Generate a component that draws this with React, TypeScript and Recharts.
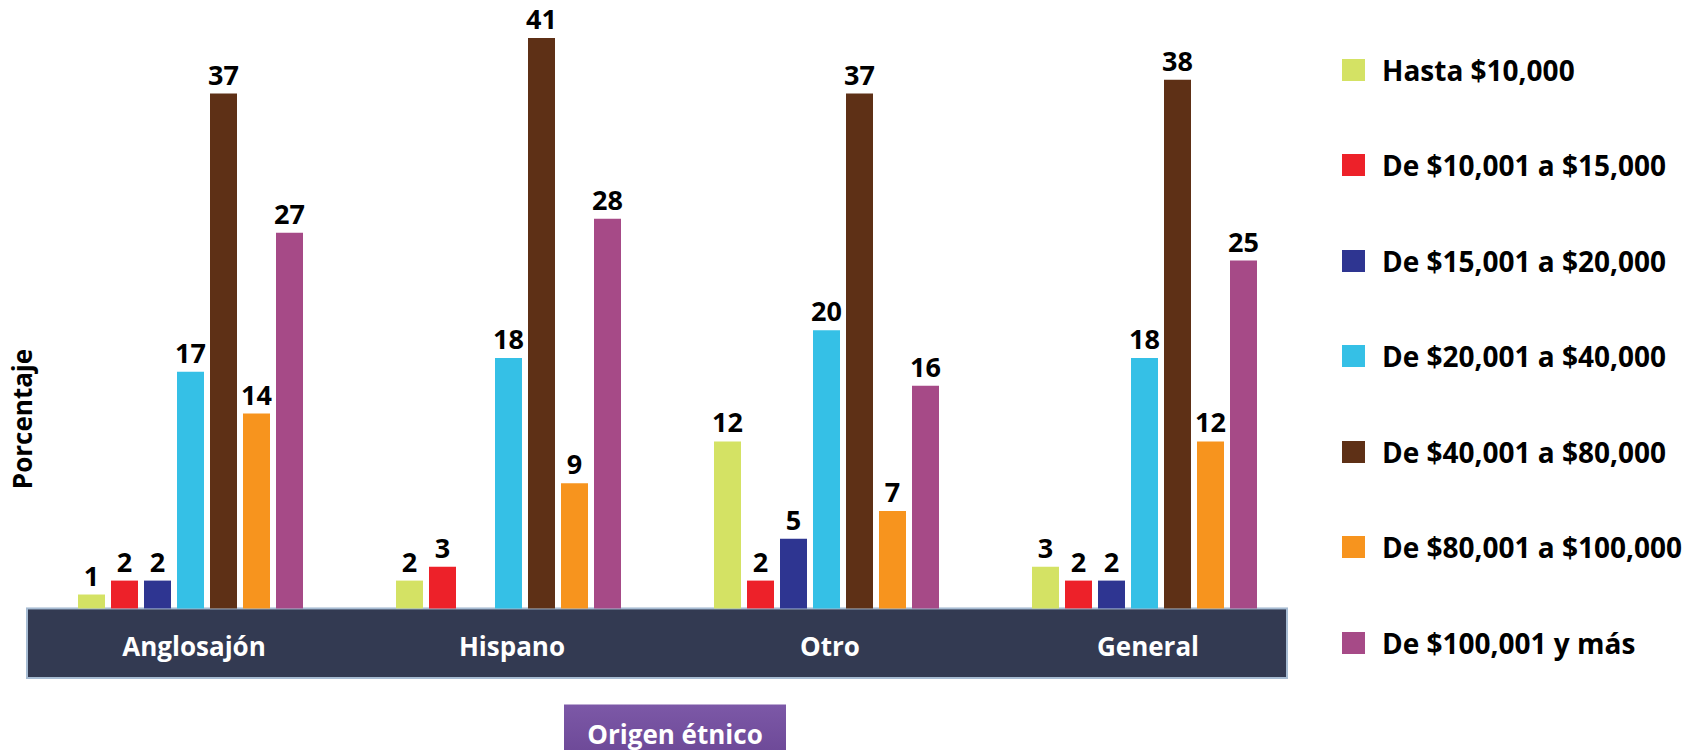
import React from "react";
import { BarChart, Bar, XAxis, YAxis, LabelList, Legend, ReferenceArea } from "recharts";

const categories = ["Anglosajón", "Hispano", "Otro", "General"];

const hasta10k = [1, 2, 12, 3];
const de10a15k = [2, 3, 2, 2];
const de15a20k = [2, null, 5, 2];
const de20a40k = [17, 18, 20, 18];
const de40a80k = [37, 41, 37, 38];
const de80a100k = [14, 9, 7, 12];
const de100kMas = [27, 28, 16, 25];

const series = [
  { key: "s1", name: "Hasta $10,000", values: hasta10k, color: "#d4e264" },
  { key: "s2", name: "De $10,001 a $15,000", values: de10a15k, color: "#ed2129" },
  { key: "s3", name: "De $15,001 a $20,000", values: de15a20k, color: "#2e3591" },
  { key: "s4", name: "De $20,001 a $40,000", values: de20a40k, color: "#35c0e6" },
  { key: "s5", name: "De $40,001 a $80,000", values: de40a80k, color: "#5e3016" },
  { key: "s6", name: "De $80,001 a $100,000", values: de80a100k, color: "#f7941e" },
  { key: "s7", name: "De $100,001 y más", values: de100kMas, color: "#a64a87" },
];

const data = categories.map((c, i) => {
  const row: Record<string, any> = { name: c };
  series.forEach((s) => (row[s.key] = s.values[i]));
  return row;
});

const FONT = "'Open Sans', sans-serif";

function CategoryTick(props: any) {
  const { x, y, payload } = props;
  return (
    <text x={x + 4} y={y - 22} textAnchor="middle" fill="#ffffff" fontFamily={FONT} fontWeight={700} fontSize={26}>
      {payload.value}
    </text>
  );
}

// purple title box under the axis band
function XTitle(props: any) {
  const vb = props.viewBox || { x: 0, y: 0, width: 0 };
  const cx = vb.x + vb.width / 2 + 8;
  const top = vb.y + 26.5;
  return (
    <g>
      <defs>
        <linearGradient id="titleGrad" x1="0" y1="0" x2="0" y2="1">
          <stop offset="0%" stopColor="#7c58a7" />
          <stop offset="100%" stopColor="#6a4694" />
        </linearGradient>
      </defs>
      <rect x={cx - 111} y={top} width={222} height={60} fill="url(#titleGrad)" />
      <text x={cx} y={top + 39} textAnchor="middle" fill="#ffffff" fontFamily={FONT} fontWeight={700} fontSize={26}>
        Origen étnico
      </text>
    </g>
  );
}

function YTitle() {
  return (
    <text x={32} y={419} transform="rotate(-90 32 419)" textAnchor="middle" fill="#000" fontFamily={FONT} fontWeight={700} fontSize={26}>
      Porcentaje
    </text>
  );
}

function LegendBox() {
  return (
    <div style={{ display: "flex", flexDirection: "column" }}>
      {series.map((s) => (
        <div key={s.key} style={{ height: 95.5, display: "flex", alignItems: "center" }}>
          <span style={{ width: 23, height: 22, background: s.color, display: "inline-block", flex: "none" }} />
          <span style={{ marginLeft: 17, fontFamily: FONT, fontWeight: 700, fontSize: 28, color: "#000", whiteSpace: "nowrap" }}>
            {s.name}
          </span>
        </div>
      ))}
    </div>
  );
}

export default function App() {
  return (
    <div style={{ position: "absolute", left: 0, top: 0, width: 1688, height: 750, background: "#fff" }}>
      <BarChart
        width={1688}
        height={750}
        data={data}
        margin={{ top: 24, right: 385, left: 0, bottom: 42 }}
        barSize={27}
        barGap={6}
      >
        <ReferenceArea
          y1={-5}
          y2={0}
          ifOverflow="visible"
          shape={(p: any) => (
            <rect x={p.x - 4} y={p.y} width={p.width - 12} height={p.height} fill="#333a52" stroke="#a7bcd3" strokeWidth={2} />
          )}
        />
        <XAxis
          dataKey="name"
          interval={0}
          axisLine={false}
          tickLine={false}
          tickSize={0}
          tickMargin={0}
          height={30}
          tick={<CategoryTick />}
          label={(p: any) => <XTitle {...p} />}
        />
        <YAxis
          type="number"
          domain={[-5, 42]}
          allowDataOverflow
          width={31}
          tick={false}
          axisLine={false}
          tickLine={false}
          label={() => <YTitle />}
        />
        <Legend
          layout="vertical"
          align="center"
          verticalAlign="middle"
          content={() => <LegendBox />}
          wrapperStyle={{ left: 1342, top: 22, width: 346, height: 680 }}
        />
        {series.map((s) => (
          <Bar key={s.key} dataKey={s.key} name={s.name} fill={s.color} isAnimationActive={false}>
            <LabelList
              dataKey={s.key}
              position="top"
              offset={9}
              fill="#000"
              fontFamily={FONT}
              fontWeight={700}
              fontSize={27}
              formatter={(v: any) => (v == null ? "" : v)}
            />
          </Bar>
        ))}
      </BarChart>
    </div>
  );
}
